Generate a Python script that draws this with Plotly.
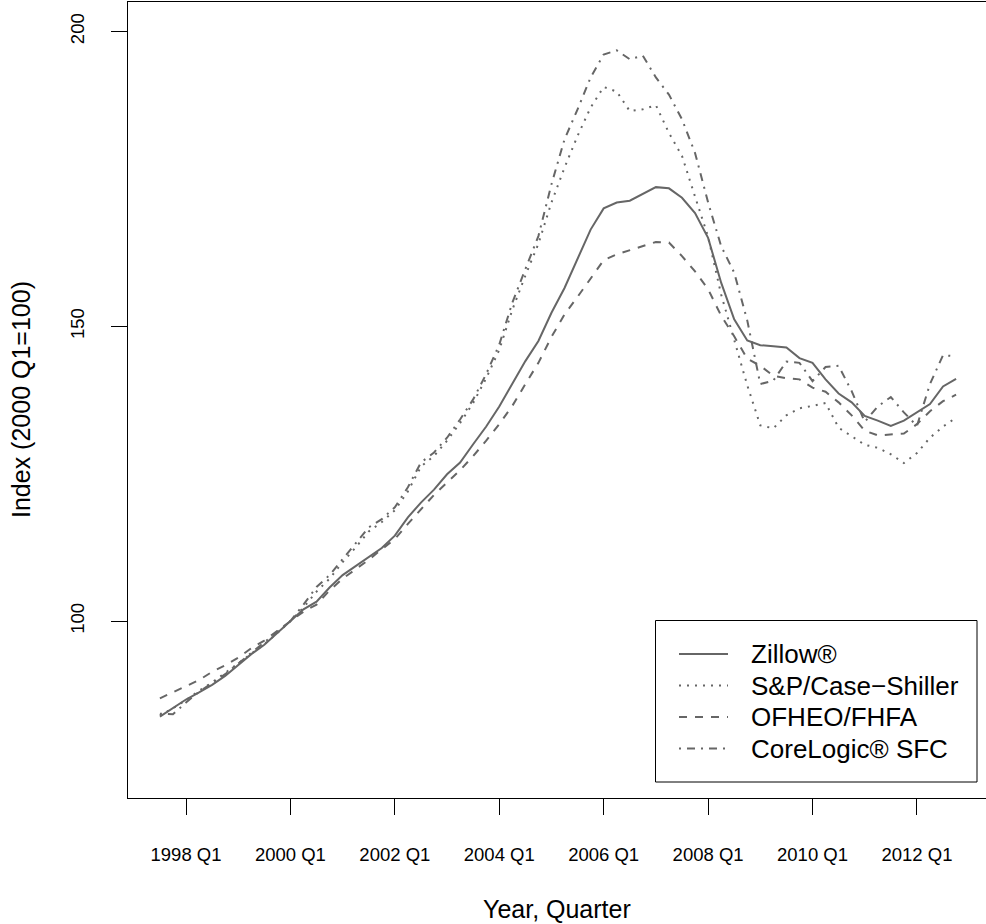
import plotly.graph_objects as go

# ---- quarters on the x axis -------------------------------------------------
start_year, start_quarter, n_quarters = 1997, 3, 62


def quarter_to_x(label):
    year, q = label.split(" Q")
    return int(year) + (int(q) - 1) / 4.0


quarters = []
yr, qt = start_year, start_quarter
for _ in range(n_quarters):
    quarters.append(f"{yr} Q{qt}")
    qt += 1
    if qt > 4:
        qt, yr = 1, yr + 1
x_vals = [quarter_to_x(s) for s in quarters]

tick_labels = ["1998 Q1", "2000 Q1", "2002 Q1", "2004 Q1",
               "2006 Q1", "2008 Q1", "2010 Q1", "2012 Q1"]
y_ticks = [100, 150, 200]

# ---- index series (2000 Q1 = 100), 1997 Q3 .. 2012 Q4 -----------------------
zillow = [83.8, 85.2, 86.7, 87.9, 89.2, 90.7, 92.6, 94.4, 96.0, 98.0,
          100.0, 102.0, 103.3, 105.7, 107.8, 109.3, 110.9, 112.4, 114.5, 117.6,
          120.1, 122.3, 124.9, 126.9, 130.0, 133.0, 136.4, 140.2, 144.1, 147.5,
          152.3, 156.5, 161.5, 166.4, 170.0, 171.0, 171.3, 172.4, 173.6, 173.4,
          171.8, 169.2, 165.0, 157.4, 151.2, 147.6, 146.8, 146.6, 146.4, 144.6,
          143.8, 141.0, 138.6, 137.1, 134.8, 134.0, 133.1, 134.0, 135.4, 136.8,
          139.8, 141.1]

case_shiller = [84.0, 85.2, 86.6, 88.2, 89.6, 91.2, 92.9, 94.5, 96.1, 98.0,
                100.0, 102.3, 105.0, 107.2, 110.0, 112.5, 115.2, 116.8, 118.8, 122.0,
                126.2, 128.0, 130.6, 133.6, 137.0, 141.2, 146.0, 152.8, 158.6, 164.0,
                171.0, 176.9, 182.3, 187.1, 190.6, 189.8, 186.5, 186.8, 187.5, 182.8,
                178.9, 172.0, 165.2, 155.4, 147.5, 140.0, 133.2, 132.7, 134.9, 136.1,
                136.5, 137.0, 132.8, 131.3, 129.9, 129.4, 128.3, 126.8, 128.5, 131.1,
                133.0, 134.5]

fhfa = [86.9, 87.9, 88.9, 90.0, 91.4, 92.5, 93.8, 95.4, 96.7, 98.4,
        100.0, 101.6, 102.8, 105.2, 107.2, 108.8, 110.4, 112.2, 113.9, 116.5,
        119.0, 121.4, 123.5, 125.6, 128.0, 130.6, 133.4, 136.5, 140.2, 143.8,
        148.2, 152.0, 155.0, 158.2, 161.2, 162.2, 162.9, 163.5, 164.3, 164.2,
        161.9, 159.3, 156.3, 151.8, 148.3, 144.5, 143.3, 141.6, 141.2, 141.0,
        139.6, 138.9, 137.1, 134.9, 132.3, 131.5, 131.7, 131.8, 133.4, 135.6,
        137.3, 138.4]

corelogic = [84.3, 84.2, 86.2, 88.0, 89.5, 91.0, 92.8, 94.6, 96.3, 98.2,
             100.0, 102.8, 105.8, 107.8, 110.6, 113.2, 115.9, 117.3, 119.3, 122.7,
             126.9, 128.6, 131.1, 134.2, 137.6, 141.9, 146.9, 154.0, 159.7, 165.3,
             174.1, 181.7, 186.8, 192.2, 196.1, 196.8, 195.3, 195.9, 192.2, 189.3,
             185.1, 179.4, 171.0, 163.6, 159.1, 151.0, 140.2, 140.8, 144.0, 143.8,
             140.7, 143.1, 143.3, 139.0, 133.8, 136.4, 138.0, 135.4, 133.1, 140.2,
             145.1, 144.9]

series_names = ["Zillow®", "S&P/Case\u2212Shiller", "OFHEO/FHFA", "CoreLogic® SFC"]
series_values = [zillow, case_shiller, fhfa, corelogic]
series_dash = ["solid", "2px,6px", "8px,8px", "2px,6px,8px,6px"]

LINE_COLOR = "#666666"
FONT = "Liberation Sans, Arial, Helvetica, sans-serif"

# ---- page geometry (pixels) ---------------------------------------------------
W, H = 986, 924
ML, MR, MT, MB = 128, 0, 2, 126
PW, PH = W - ML - MR, H - MT - MB


def px_to_paper_x(px):
    return (px - ML) / PW


def px_to_paper_y(py):
    return (H - MB - py) / PH


fig = go.Figure()
for name, vals, dash in zip(series_names, series_values, series_dash):
    fig.add_trace(go.Scatter(
        x=x_vals, y=vals, mode="lines", name=name,
        line=dict(color=LINE_COLOR, width=2, dash=dash),
        showlegend=False,
    ))

# ---- legend drawn as a framed box ----------------------------------------------
box_l, box_r, box_t, box_b = 655.5, 977, 620.5, 782
row_y = [654, 685.5, 717, 748.5]
sample_l, sample_r, text_x = 679, 728, 749

shapes = [dict(type="rect", xref="paper", yref="paper",
               x0=px_to_paper_x(box_l), x1=px_to_paper_x(box_r),
               y0=px_to_paper_y(box_b), y1=px_to_paper_y(box_t),
               line=dict(color="black", width=1), fillcolor="white", layer="above")]
annotations = []
for name, dash, ry in zip(series_names, series_dash, row_y):
    shapes.append(dict(type="line", xref="paper", yref="paper",
                       x0=px_to_paper_x(sample_l), x1=px_to_paper_x(sample_r),
                       y0=px_to_paper_y(ry), y1=px_to_paper_y(ry),
                       line=dict(color=LINE_COLOR, width=2, dash=dash), layer="above"))
    annotations.append(dict(xref="paper", yref="paper",
                            x=px_to_paper_x(text_x), y=px_to_paper_y(ry),
                            xanchor="left", yanchor="middle", showarrow=False,
                            text=name, font=dict(family=FONT, size=26, color="black")))

# axis titles
annotations.append(dict(xref="paper", yref="paper", x=0.5, y=px_to_paper_y(909),
                        xanchor="center", yanchor="middle", showarrow=False,
                        text="Year, Quarter",
                        font=dict(family=FONT, size=25, color="black")))
annotations.append(dict(xref="paper", yref="paper", x=px_to_paper_x(21), y=0.5,
                        xanchor="center", yanchor="middle", showarrow=False,
                        textangle=-90, text="Index (2000 Q1=100)",
                        font=dict(family=FONT, size=25, color="black")))

axis_common = dict(
    showgrid=False, zeroline=False, showline=True, linecolor="black", linewidth=1,
    mirror=True, ticks="outside", ticklen=16, tickwidth=1, tickcolor="black",
    tickfont=dict(family=FONT, size=18.5, color="black"),
)

fig.update_layout(
    width=W, height=H,
    margin=dict(l=ML, r=MR, t=MT, b=MB, pad=0),
    paper_bgcolor="white", plot_bgcolor="white",
    xaxis=dict(range=[1996.889, 2013.323],
               tickvals=[quarter_to_x(t) for t in tick_labels],
               ticktext=tick_labels, ticklabelstandoff=24, **axis_common),
    yaxis=dict(range=[70, 205], tickvals=y_ticks,
               ticktext=[str(v) for v in y_ticks], tickangle=-90,
               ticklabelstandoff=20, **axis_common),
    shapes=shapes,
    annotations=annotations,
    showlegend=False,
)

fig.write_html("out.html")
